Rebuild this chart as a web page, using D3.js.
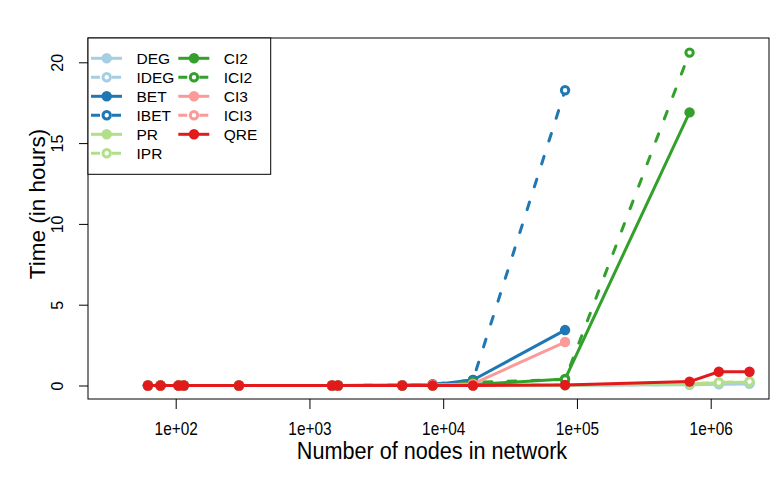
<!DOCTYPE html>
<html>
<head>
<meta charset="utf-8">
<script src="https://cdn.jsdelivr.net/npm/d3@7"></script>
<style>
  html, body { margin: 0; padding: 0; background: #fff; }
  svg { display: block; font-family: "Liberation Sans", Arial, Helvetica, sans-serif; }
</style>
</head>
<body>
<svg id="chart" width="779" height="487"></svg>
<script>
// ---------- data ----------
const nodes = [62, 77, 105, 115, 297, 1475, 1635, 4941, 8340, 16700, 81500, 695000, 1150000, 1950000];

const seriesNames = ["DEG", "IDEG", "BET", "IBET", "PR", "IPR", "CI2", "ICI2", "CI3", "ICI3", "QRE"];
const seriesColors = ["#A6CEE3", "#A6CEE3", "#1F78B4", "#1F78B4", "#B2DF8A", "#B2DF8A", "#33A02C", "#33A02C", "#FB9A99", "#FB9A99", "#E31A1C"];
const seriesDashed = [false, true, false, true, false, true, false, true, false, true, false];

const DEG  = [0, 0, 0, 0, 0, 0, 0, 0, 0, 0, 0.01, 0.04, 0.07, 0.10];
const IDEG = [0, 0, 0, 0, 0, 0, 0, 0, 0, 0, 0.02, 0.06, 0.10, 0.15];
const BET  = [0, 0, 0, 0, 0, 0, 0, 0.02, 0.05, 0.34, 3.43, null, null, null];
const IBET = [0, 0, 0, 0, 0, 0, 0, 0.02, 0.08, 0.34, 18.27, null, null, null];
const PR   = [0, 0, 0, 0, 0, 0, 0, 0, 0, 0.01, 0.02, 0.10, 0.17, 0.22];
const IPR  = [0, 0, 0, 0, 0, 0, 0, 0, 0, 0.01, 0.03, 0.11, 0.19, 0.25];
const CI2  = [0, 0, 0, 0, 0, 0, 0, 0.01, 0.03, 0.06, 0.40, 16.9, null, null];
const ICI2 = [0, 0, 0, 0, 0, 0, 0, 0.01, 0.04, 0.20, 0.38, 20.6, null, null];
const CI3  = [0, 0, 0, 0, 0, 0, 0, 0.01, 0.03, 0.10, 2.69, null, null, null];
const ICI3 = [0, 0, 0, 0, 0, 0, 0, 0.01, 0.03, 0.06, null, null, null, null];
const QRE  = [0, 0, 0, 0, 0, 0, 0, 0, 0, 0, 0.03, 0.24, 0.85, 0.85];

const seriesValues = [DEG, IDEG, BET, IBET, PR, IPR, CI2, ICI2, CI3, ICI3, QRE];

const xTicks = [1e2, 1e3, 1e4, 1e5, 1e6];
const xTickLabels = ["1e+02", "1e+03", "1e+04", "1e+05", "1e+06"];
const yTicks = [0, 5, 10, 15, 20];

const xTitle = "Number of nodes in network";
const yTitle = "Time (in hours)";

// ---------- layout ----------
const box = { left: 88, right: 769, top: 38, bottom: 399 };
const svg = d3.select("#chart");

const x = d3.scaleLog().domain([1e2, 1e6]).range([175.7, 710.7]);
const y = d3.scaleLinear().domain([0, 20]).range([385.5, 62.3]);

const LW = 3;
const DASH = "8,16";
const FONT = "'Liberation Sans', Arial, sans-serif";

// ---------- axes ----------
const xAxis = d3.axisBottom(x).tickValues(xTicks)
  .tickFormat((d, i) => xTickLabels[i]).tickSizeOuter(0).tickSizeInner(10);
const gx = svg.append("g").attr("transform", `translate(0,${box.bottom})`).call(xAxis);
gx.select(".domain").remove();
gx.selectAll(".tick line").attr("stroke", "#000").attr("stroke-width", 1);
gx.selectAll(".tick text").attr("font-size", 17.5).attr("fill", "#000")
  .attr("font-family", FONT)
  .attr("y", null).attr("dy", null)
  .attr("transform", "translate(0,35.5) scale(0.88,1)");

const yAxis = d3.axisLeft(y).tickValues(yTicks).tickSizeOuter(0).tickSizeInner(9).tickFormat(d3.format("d"));
const gy = svg.append("g").attr("transform", `translate(${box.left},0)`).call(yAxis);
gy.select(".domain").remove();
gy.selectAll(".tick line").attr("stroke", "#000").attr("stroke-width", 1);
gy.selectAll(".tick text").attr("font-size", 16).attr("fill", "#000")
  .attr("font-family", FONT)
  .attr("x", null).attr("dy", null)
  .attr("text-anchor", "middle")
  .attr("transform", "translate(-25,0) rotate(-90)");

// box
svg.append("rect").attr("x", box.left).attr("y", box.top)
  .attr("width", box.right - box.left).attr("height", box.bottom - box.top)
  .attr("fill", "none").attr("stroke", "#000").attr("stroke-width", 1);

// titles
svg.append("text").attr("transform", "translate(432,459) scale(0.97,1.04)")
  .attr("text-anchor", "middle").attr("font-size", 22.3).attr("fill", "#000").text(xTitle);
svg.append("text").attr("transform", `translate(45,204) rotate(-90)`)
  .attr("text-anchor", "middle").attr("font-size", 22.5).attr("fill", "#000").text(yTitle);

// ---------- series ----------
const plot = svg.append("g");
seriesNames.forEach((name, si) => {
  const pts = nodes.map((n, i) => ({ n, v: seriesValues[si][i] })).filter(d => d.v !== null);
  const line = d3.line().x(d => x(d.n)).y(d => y(d.v));
  const g = plot.append("g");
  g.append("path").datum(pts).attr("d", line)
    .attr("fill", "none").attr("stroke", seriesColors[si]).attr("stroke-width", LW)
    .attr("stroke-linecap", "round").attr("stroke-linejoin", "round")
    .attr("stroke-dasharray", seriesDashed[si] ? DASH : null);
  g.selectAll("circle").data(pts).join("circle")
    .attr("cx", d => x(d.n)).attr("cy", d => y(d.v))
    .attr("r", seriesDashed[si] ? 3.7 : 5.2)
    .attr("fill", seriesDashed[si] ? "#fff" : seriesColors[si])
    .attr("stroke", seriesColors[si])
    .attr("stroke-width", seriesDashed[si] ? 3 : 0);
});

// ---------- legend ----------
const legW = 270.7 - box.left, legH = 174.3 - box.top;
const leg = svg.append("g");
leg.append("rect").attr("x", box.left).attr("y", box.top).attr("width", legW).attr("height", legH)
  .attr("fill", "#fff").attr("stroke", "#000").attr("stroke-width", 1);
const colX = [91, 178.3];
const rowY0 = 58.3, rowDY = 19;
seriesNames.forEach((name, si) => {
  const col = si < 6 ? 0 : 1;
  const row = si < 6 ? si : si - 6;
  const yy = rowY0 + row * rowDY;
  const x0 = colX[col];
  const gi = leg.append("g");
  gi.append("line").attr("x1", x0).attr("x2", x0 + 31).attr("y1", yy).attr("y2", yy)
    .attr("stroke", seriesColors[si]).attr("stroke-width", LW)
    .attr("stroke-dasharray", seriesDashed[si] ? "9,12" : null);
  gi.append("circle").attr("cx", x0 + 15.7).attr("cy", yy)
    .attr("r", seriesDashed[si] ? 3.7 : 5.2)
    .attr("fill", seriesDashed[si] ? "#fff" : seriesColors[si])
    .attr("stroke", seriesColors[si]).attr("stroke-width", seriesDashed[si] ? 3 : 0);
  gi.append("text").attr("x", x0 + 45.5).attr("y", yy).attr("dy", "0.36em")
    .attr("font-size", 15.5).attr("fill", "#000").text(name);
});
</script>
</body>
</html>
